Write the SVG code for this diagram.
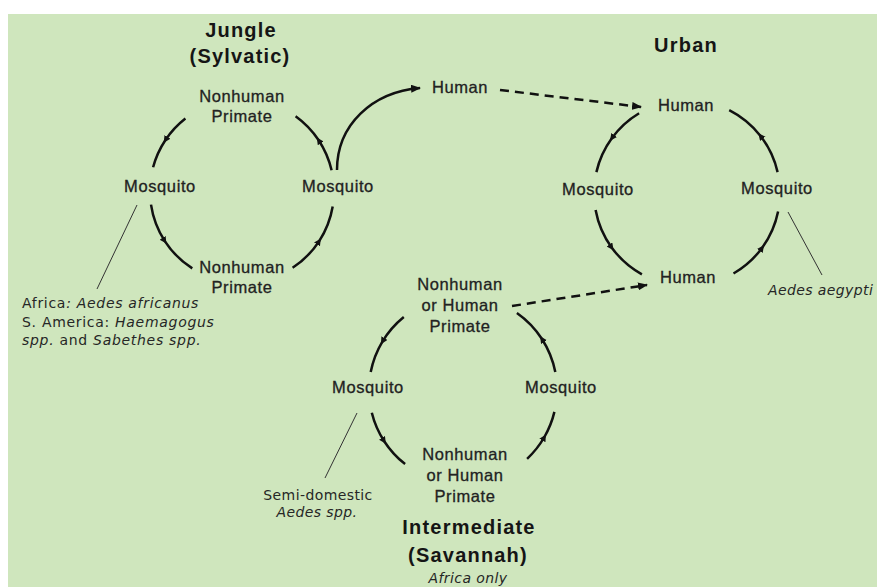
<svg xmlns="http://www.w3.org/2000/svg" width="877" height="587" viewBox="0 0 877 587">
<defs>
<marker id="mid" markerUnits="userSpaceOnUse" markerWidth="8" markerHeight="8" refX="4" refY="3.5" orient="auto"><path d="M0,0 L7,3.5 L0,7 z" fill="#111"/></marker>
<marker id="end" markerUnits="userSpaceOnUse" markerWidth="10" markerHeight="8" refX="9" refY="4" orient="auto"><path d="M0,0 L10,4 L0,8 z" fill="#111"/></marker>
<style>
.lbl{font-family:"Liberation Sans",Arial,sans-serif;font-size:16.5px;letter-spacing:0.6px;fill:#222;stroke:#222;stroke-width:0.3;text-anchor:middle}
.ttl{font-family:"Liberation Sans",Arial,sans-serif;font-size:20px;font-weight:bold;letter-spacing:1.2px;fill:#151515;text-anchor:middle}
.ann{font-family:"DejaVu Sans",Verdana,sans-serif;font-size:14px;letter-spacing:0.4px;fill:#262626}
.wide{letter-spacing:0.7px}
.it{font-style:italic}
.cyc{fill:none;stroke:#111;stroke-width:2.5;marker-mid:url(#mid)}
.dash{fill:none;stroke:#111;stroke-width:2.5;stroke-dasharray:9 6;marker-end:url(#end)}
.ptr{stroke:#333;stroke-width:1;fill:none}
</style>
</defs>
<rect x="0" y="0" width="877" height="587" fill="#ffffff"/>
<rect x="8" y="14" width="869" height="573" fill="#cfe6bd"/>

<g id="titles">
<text class="ttl" x="241" y="37">Jungle</text>
<text class="ttl" x="240" y="63">(Sylvatic)</text>
<text class="ttl" x="686" y="52">Urban</text>
<text class="ttl" x="469" y="534">Intermediate</text>
<text class="ttl" x="468" y="562">(Savannah)</text>
<text class="ann it" x="468" y="583" text-anchor="middle">Africa only</text>
</g>

<g id="connectors">
<path class="cyc" d="M331.6,170.3 A92,92 0 0 0 318.5,140 A92,92 0 0 0 295.6,116.2"/>
<path class="cyc" d="M185.4,118.5 A92,92 0 0 0 165.3,140.2 A92,92 0 0 0 153.1,167.2"/>
<path class="cyc" d="M151,204.6 A92,92 0 0 0 164.8,241.1 A92,92 0 0 0 192.3,268.4"/>
<path class="cyc" d="M292.6,267.8 A92,92 0 0 0 319.2,241.1 A92,92 0 0 0 332.7,206.5"/>

<path class="cyc" d="M639.1,113.3 A93,93 0 0 0 611.8,138.3 A93,93 0 0 0 596.4,172.1"/>
<path class="cyc" d="M595.6,209.9 A93,93 0 0 0 611.8,247.7 A93,93 0 0 0 641.9,274.3"/>
<path class="cyc" d="M733.5,273.5 A93,93 0 0 0 762.2,247.7 A93,93 0 0 0 778.1,211.5"/>
<path class="cyc" d="M777.6,172.1 A93,93 0 0 0 760.3,135.7 A93,93 0 0 0 729.2,110.1"/>

<path class="cyc" d="M403.8,317 A94,94 0 0 0 382.4,341.6 A94,94 0 0 0 370.7,372.1"/>
<path class="cyc" d="M371.8,412.7 A94,94 0 0 0 384.2,441.2 A94,94 0 0 0 405.1,464.1"/>
<path class="cyc" d="M527.1,458.8 A94,94 0 0 0 544.4,437 A94,94 0 0 0 554.4,411.9"/>
<path class="cyc" d="M555.3,372.1 A94,94 0 0 0 541.8,338.8 A94,94 0 0 0 516.9,313"/>

<path d="M337,170 C337,125 372,92 420,88" fill="none" stroke="#111" stroke-width="2.5" marker-end="url(#end)"/>
<path class="dash" d="M500,90 L641,107"/>
<path class="dash" d="M512,306 L647,285"/>

<path class="ptr" d="M137,205 L97,289"/>
<path class="ptr" d="M788,212 L822,275"/>
<path class="ptr" d="M357,413 L325,478"/>
</g>

<g id="jungle-nhp-top"><text class="lbl" x="242" y="102">Nonhuman</text><text class="lbl" x="242" y="122">Primate</text></g>
<g id="jungle-mosq-left"><text class="lbl" x="160" y="192">Mosquito</text></g>
<g id="jungle-mosq-right"><text class="lbl" x="338" y="192">Mosquito</text></g>
<g id="jungle-nhp-bottom"><text class="lbl" x="242" y="273">Nonhuman</text><text class="lbl" x="242" y="293">Primate</text></g>
<g id="human-mid"><text class="lbl" x="460" y="93">Human</text></g>

<g id="urban-human-top"><text class="lbl" x="686" y="111">Human</text></g>
<g id="urban-mosq-left"><text class="lbl" x="598" y="195">Mosquito</text></g>
<g id="urban-mosq-right"><text class="lbl" x="777" y="194">Mosquito</text></g>
<g id="urban-human-bottom"><text class="lbl" x="688" y="283">Human</text></g>

<g id="inter-top"><text class="lbl" x="460" y="290">Nonhuman</text><text class="lbl" x="460" y="311">or Human</text><text class="lbl" x="460" y="332">Primate</text></g>
<g id="inter-mosq-left"><text class="lbl" x="368" y="393">Mosquito</text></g>
<g id="inter-mosq-right"><text class="lbl" x="561" y="393">Mosquito</text></g>
<g id="inter-bottom"><text class="lbl" x="465" y="460">Nonhuman</text><text class="lbl" x="465" y="481">or Human</text><text class="lbl" x="465" y="502">Primate</text></g>

<g id="note-jungle">
<text class="ann wide" x="22" y="308">Africa<tspan class="it">: Aedes africanus</tspan></text>
<text class="ann wide" x="22" y="327">S. America: <tspan class="it">Haemagogus</tspan></text>
<text class="ann wide" x="22" y="345"><tspan class="it">spp.</tspan> and <tspan class="it">Sabethes spp.</tspan></text>
</g>
<g id="note-urban"><text class="ann it" x="768" y="295">Aedes aegypti</text></g>
<g id="note-inter">
<text class="ann" x="318" y="500" text-anchor="middle">Semi-domestic</text>
<text class="ann it" x="317" y="517" text-anchor="middle">Aedes spp.</text>
</g>
</svg>
